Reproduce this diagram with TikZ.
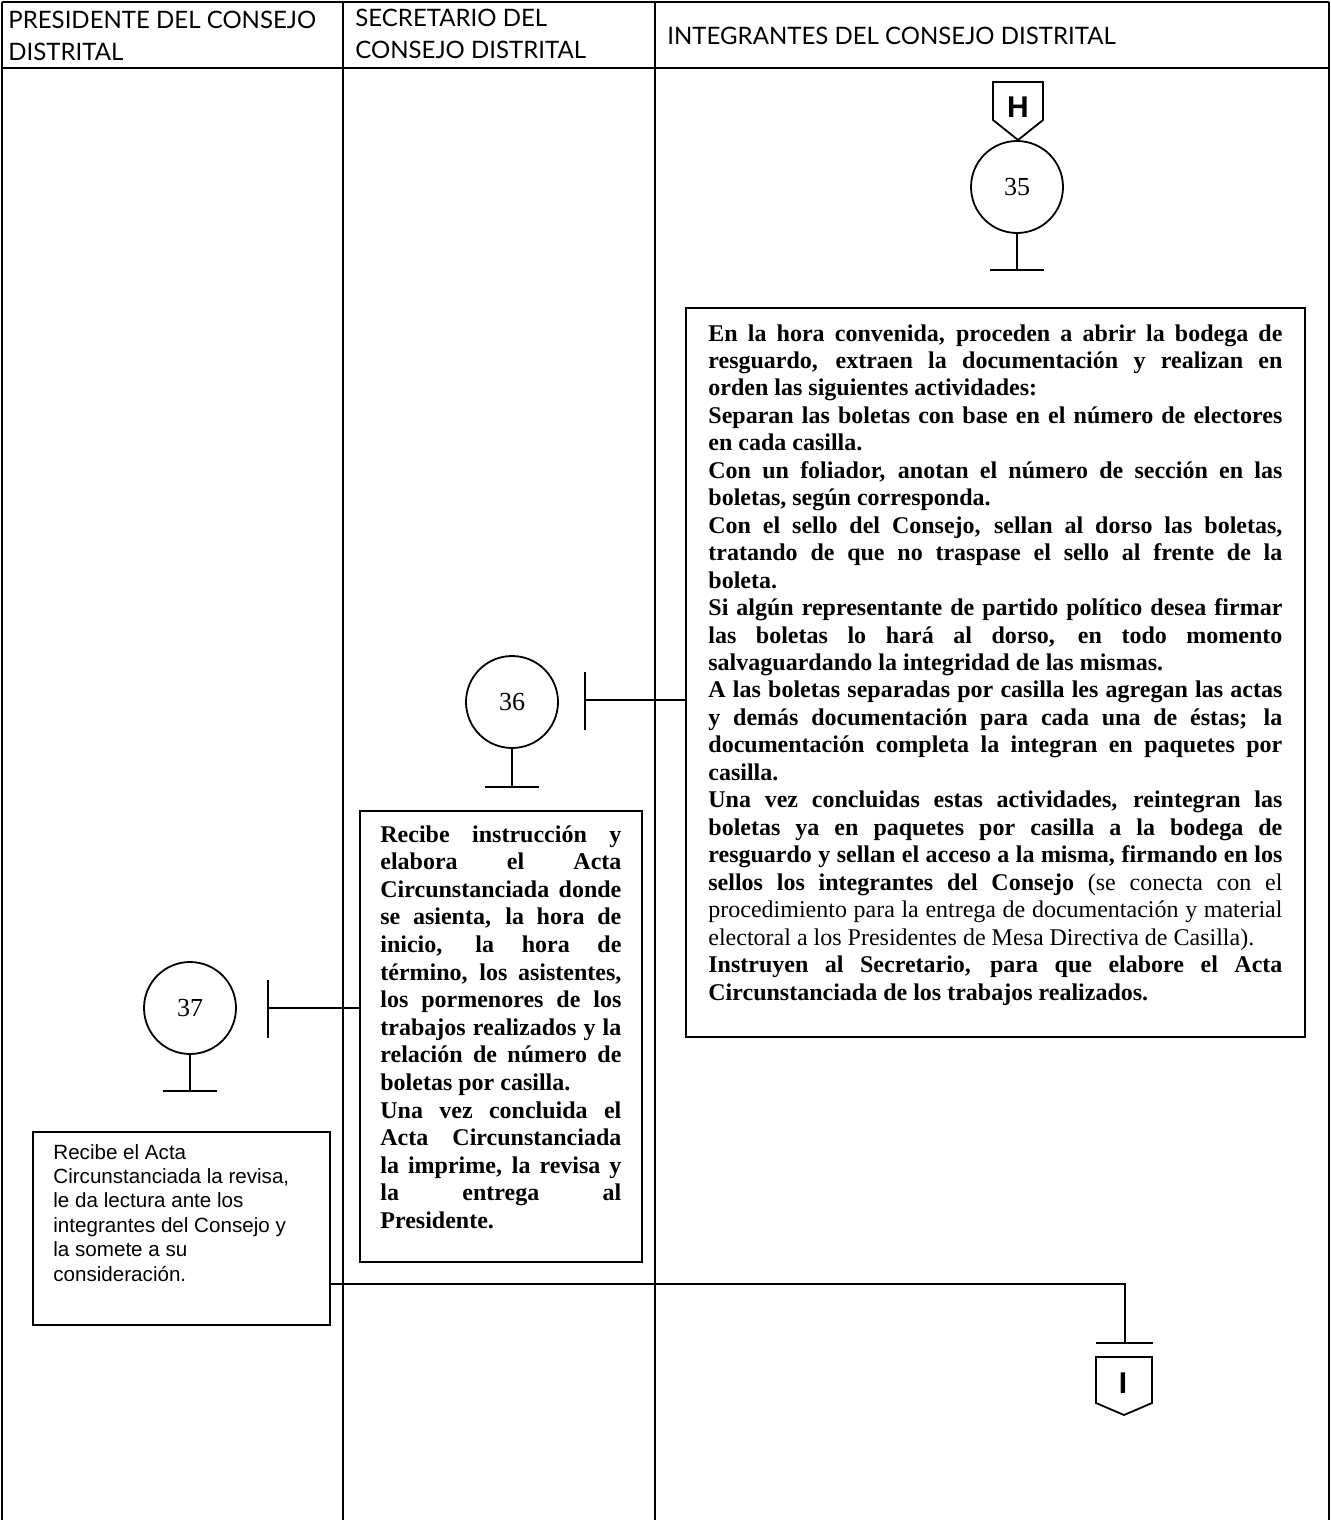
\documentclass[tikz,border=0pt]{standalone}
\usepackage{fontspec}
\setmainfont{Liberation Serif}
\newfontfamily\arialf{Liberation Sans}
\newfontfamily\headf{Lato}
\usetikzlibrary{calc,fit}
\newcommand\jline[1]{\hbox to\hsize{#1}}
\newcommand\pline[1]{\hbox{#1}}
\begin{document}
\begin{tikzpicture}[x=0.5pt,y=-0.5pt,
  tbl/.style={line width=0.7pt},
  ln/.style={line width=0.9pt},
  boxx/.style={draw,line width=0.9pt,inner sep=0pt},
  num/.style={circle,draw,line width=0.9pt,minimum size=46pt,inner sep=0pt,font=\fontsize{13}{15}\selectfont},
  head/.style={anchor=base west,inner sep=0pt,font=\headf\fontsize{12}{14}\selectfont},
  txt/.style={anchor=base west,inner sep=0pt},
  lett/.style={inner sep=0pt,font=\arialf\bfseries\fontsize{15}{17}\selectfont}]
\fill[white] (0,0) rectangle (1331,1520);
\useasboundingbox (0,0) rectangle (1331,1520);
% table
\draw[tbl] (2,2) -- (1329,2);
\draw[tbl] (2,68) -- (1329,68);
\draw[tbl] (2,2) -- (2,1520);
\draw[tbl] (343,2) -- (343,1520);
\draw[tbl] (655,2) -- (655,1520);
\draw[tbl] (1329,2) -- (1329,1520);
% headers
\node[head] (h1a) at (8,29) {PRESIDENTE DEL CONSEJO};
\node[head] (h1b) at (8,61) {DISTRITAL};
\node[head] (h2a) at (355,27) {SECRETARIO DEL};
\node[head] (h2b) at (355,59) {CONSEJO DISTRITAL};
\node[head] (h3) at (667,45) {INTEGRANTES DEL CONSEJO DISTRITAL};
% connector H
\draw[ln] (993,82) -- (1043,82) -- (1043,120) -- (1018,140) -- (993,120) -- cycle;
\node[lett] (hlab) at (1018,107) {H};
% 35
\node[num] (c35) at (1017,187) {35};
\draw[ln] (c35.south) -- ++(0,36) coordinate (s35);
\draw[ln] ($(s35)+(-27,0)$) -- ($(s35)+(27,0)$);
% box 1
\node[boxx,fit={(686,308)(1305,1037)}] (b1) {};
\node[txt] (t1) at (708,341) {\vtop{\hsize=287pt\fontsize{12}{13.73}\selectfont\bfseries
\jline{En la hora convenida, proceden a abrir la bodega de}
\jline{resguardo, extraen la documentación y realizan en}
\pline{orden las siguientes actividades:}
\jline{Separan las boletas con base en el número de electores}
\pline{en cada casilla.}
\jline{Con un foliador, anotan el número de sección en las}
\pline{boletas, según corresponda.}
\jline{Con el sello del Consejo, sellan al dorso las boletas,}
\jline{tratando de que no traspase el sello al frente de la}
\pline{boleta.}
\jline{Si algún representante de partido político desea firmar}
\jline{las boletas lo hará al dorso, en todo momento}
\pline{salvaguardando la integridad de las mismas.}
\jline{A las boletas separadas por casilla les agregan las actas}
\jline{y demás documentación para cada una de éstas; la}
\jline{documentación completa la integran en paquetes por}
\pline{casilla.}
\jline{Una vez concluidas estas actividades, reintegran las}
\jline{boletas ya en paquetes por casilla a la bodega de}
\jline{resguardo y sellan el acceso a la misma, firmando en los}
\jline{sellos los integrantes del Consejo \mdseries(se conecta con el}
\jline{\mdseries procedimiento para la entrega de documentación y material}
\pline{\mdseries electoral a los Presidentes de Mesa Directiva de Casilla).}
\jline{Instruyen al Secretario, para que elabore el Acta}
\pline{Circunstanciada de los trabajos realizados.}}};
% 36
\node[num] (c36) at (512,702) {36};
\draw[ln] (c36.south) -- ++(0,38) coordinate (s36);
\draw[ln] ($(s36)+(-27,0)$) -- ($(s36)+(27,0)$);
\coordinate (j36) at (585,700);
\draw[ln] ($(j36)+(0,-28)$) -- ($(j36)+(0,30)$);
\draw[ln] (j36) -- (j36 -| b1.west);
% box 2
\node[boxx,fit={(360,811)(642,1262)}] (b2) {};
\node[txt] (t2) at (380,842) {\vtop{\hsize=120.5pt\fontsize{12}{13.8}\selectfont\bfseries
\jline{Recibe instrucción y}
\jline{elabora el Acta}
\jline{Circunstanciada donde}
\jline{se asienta, la hora de}
\jline{inicio, la hora de}
\jline{término, los asistentes,}
\jline{los pormenores de los}
\jline{trabajos realizados y la}
\jline{relación de número de}
\pline{boletas por casilla.}
\jline{Una vez concluida el}
\jline{Acta Circunstanciada}
\jline{la imprime, la revisa y}
\jline{la entrega al}
\pline{Presidente.}}};
% 37
\node[num] (c37) at (190,1008) {37};
\draw[ln] (c37.south) -- ++(0,36) coordinate (s37);
\draw[ln] ($(s37)+(-27,0)$) -- ($(s37)+(27,0)$);
\coordinate (j37) at (268,1008);
\draw[ln] ($(j37)+(0,-28)$) -- ($(j37)+(0,30)$);
\draw[ln] (j37) -- (j37 -| b2.west);
% box 3
\node[boxx,fit={(33,1132)(330,1325)}] (b3) {};
\node[txt] (t3) at (53,1159) {\vtop{\hsize=130pt\arialf\fontsize{10.3}{12.2}\selectfont
\pline{Recibe el Acta}
\pline{Circunstanciada la revisa,}
\pline{le da lectura ante los}
\pline{integrantes del Consejo y}
\pline{la somete a su}
\pline{consideración.}}};
% connector to I
\coordinate (k) at (1125,1284);
\draw[ln] (b3.east |- k) -- (k) -- ++(0,59) coordinate (kb);
\draw[ln] ($(kb)+(-29,0)$) -- ($(kb)+(28,0)$);
\draw[ln] (1096,1357) -- (1152,1357) -- (1152,1403) -- (1124,1415) -- (1096,1403) -- cycle;
\node[lett] (ilab) at (1123,1383) {I};
\end{tikzpicture}
\end{document}
